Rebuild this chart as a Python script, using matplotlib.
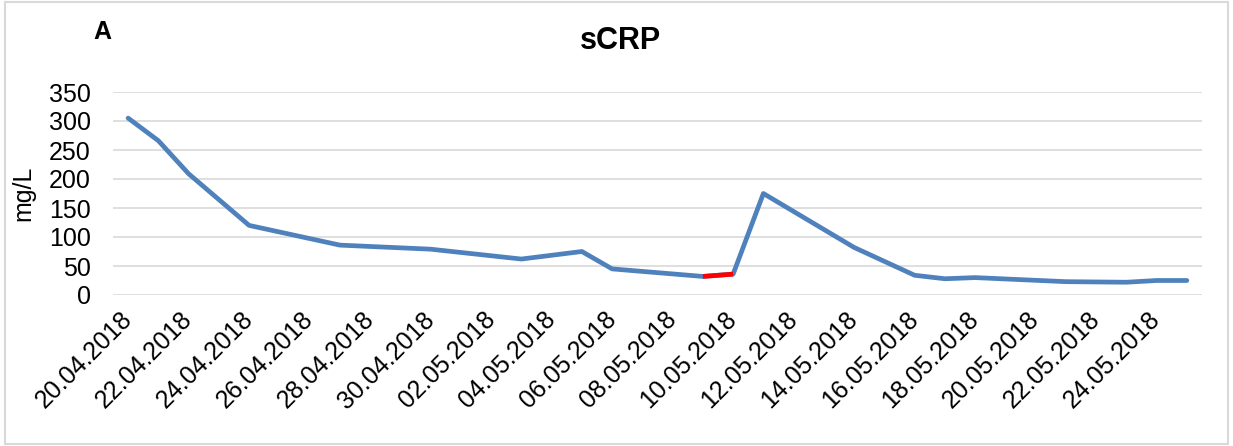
import matplotlib
matplotlib.use("Agg")
import matplotlib.pyplot as plt
import matplotlib.dates as mdates
from matplotlib.patches import Rectangle
import pandas as pd

plt.rcParams['font.family'] = ['Liberation Sans', 'DejaVu Sans']

dates = ["20.04.2018", "21.04.2018", "22.04.2018", "24.04.2018", "27.04.2018",
         "30.04.2018", "03.05.2018", "05.05.2018", "06.05.2018", "09.05.2018",
         "10.05.2018", "11.05.2018", "14.05.2018", "16.05.2018", "17.05.2018",
         "18.05.2018", "21.05.2018", "23.05.2018", "24.05.2018", "25.05.2018"]
scrp = [305, 266, 209, 120, 86, 79, 62, 75, 45, 32,
        36, 175, 82, 34, 28, 30, 23, 22, 25, 25]
# segment highlighted in red
red_from, red_to = "09.05.2018", "10.05.2018"
last_tick = "24.05.2018"

x = pd.to_datetime(dates, format="%d.%m.%Y")
s = pd.Series(scrp, index=x)
rx = pd.to_datetime([red_from, red_to], format="%d.%m.%Y")

fig = plt.figure(figsize=(12.33, 4.46), dpi=100)
ax = fig.add_axes([113/1233, 1 - 295/446, (1202 - 113)/1233, (295 - 92)/446])

ax.plot(s.index, s.values, color="#4f81bd", lw=3.4, solid_capstyle="round", zorder=3)
ax.plot(rx, s.loc[rx].values, color="#ff0000", lw=3.4, solid_capstyle="butt", zorder=4)

ax.set_ylim(0, 350)
ax.set_yticks(range(0, 351, 50))
ax.set_xlim(x[0] - pd.Timedelta(hours=12), x[-1] + pd.Timedelta(hours=12))
ax.set_xticks(pd.date_range(x[0], pd.to_datetime(last_tick, format="%d.%m.%Y"), freq="2D"))
ax.xaxis.set_major_formatter(mdates.DateFormatter("%d.%m.%Y"))

ax.grid(axis="y", color="#d9d9d9", lw=1.2)
ax.set_axisbelow(True)
for sp in ax.spines.values():
    sp.set_visible(False)
ax.tick_params(length=0)
ax.tick_params(axis="y", labelsize=18, pad=16)
ax.tick_params(axis="x", labelsize=18, pad=15)
for lab in ax.get_xticklabels():
    lab.set_rotation(45)
    lab.set_ha("right")
    lab.set_va("center")
    lab.set_rotation_mode("anchor")

ax.set_ylabel("mg/L", fontsize=18, labelpad=10)

fig.text(620/1233, 1 - 41/446, "sCRP", fontsize=22, fontweight="bold", ha="center", va="center")
fig.text(102/1233, 1 - 32/446, "A", fontsize=18, fontweight="bold", ha="center", va="center")

fig.patches.append(Rectangle((5/1233, 1 - 444/446), 1223/1233, 442/446,
                             transform=fig.transFigure, fill=False,
                             edgecolor="#d9d9d9", lw=1.5))

fig.savefig("out.png", dpi=100)
